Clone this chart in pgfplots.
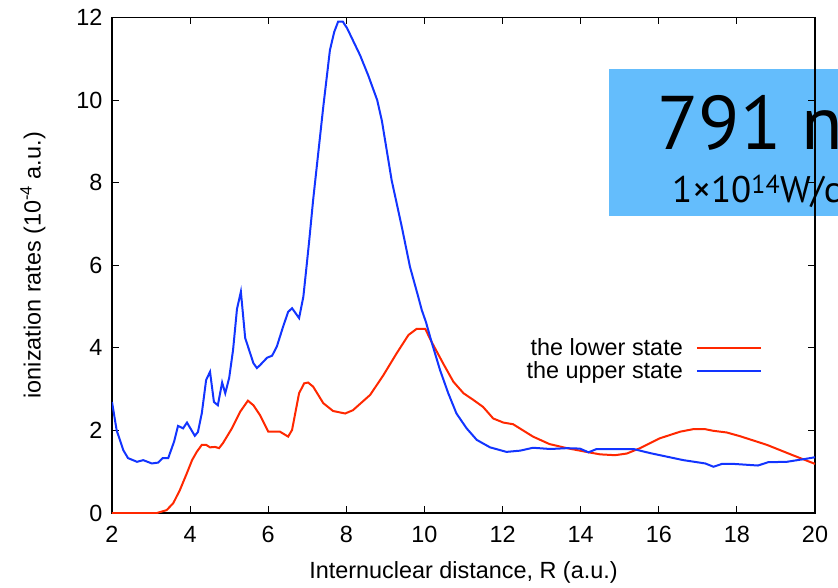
\documentclass[border=0pt]{standalone}
\usepackage{pgfplots}
\pgfplotsset{compat=1.18}
\usepackage{fontspec}
\setmainfont{Liberation Sans}
\newfontfamily\boxfont{PT Sans}
\definecolor{cred}{RGB}{255,40,0}
\definecolor{cblue}{RGB}{18,52,255}
\definecolor{cbox}{RGB}{100,189,252}

\pgfplotstableread{
x y
2.00 0
3.15 0
3.40 0.07
3.57 0.24
3.74 0.56
3.92 0.97
4.05 1.28
4.17 1.48
4.30 1.65
4.41 1.65
4.51 1.59
4.64 1.60
4.74 1.57
4.84 1.69
5.07 2.05
5.28 2.45
5.48 2.72
5.62 2.61
5.79 2.37
6.00 1.97
6.12 1.97
6.30 1.97
6.51 1.85
6.61 2.01
6.79 2.90
6.92 3.14
7.02 3.16
7.15 3.06
7.41 2.66
7.66 2.47
7.97 2.41
8.17 2.49
8.61 2.86
8.95 3.34
9.29 3.87
9.59 4.31
9.80 4.46
10.02 4.46
10.18 4.15
10.48 3.62
10.74 3.18
11.00 2.90
11.25 2.74
11.50 2.57
11.76 2.29
12.02 2.19
12.27 2.15
12.78 1.85
13.20 1.67
13.65 1.57
14.20 1.47
14.50 1.42
14.88 1.40
15.18 1.44
15.52 1.57
16.03 1.81
16.55 1.97
16.88 2.03
17.19 2.03
17.40 1.99
17.74 1.95
18.08 1.86
18.77 1.65
19.43 1.40
20.00 1.19
}\lowerstate

\pgfplotstableread{
x y
2.00 2.69
2.12 2.00
2.29 1.52
2.41 1.33
2.64 1.24
2.80 1.28
3.02 1.20
3.18 1.22
3.30 1.33
3.44 1.33
3.59 1.73
3.69 2.11
3.82 2.05
3.92 2.19
4.12 1.87
4.20 1.96
4.30 2.42
4.41 3.22
4.51 3.42
4.61 2.69
4.71 2.61
4.82 3.16
4.90 2.90
5.00 3.27
5.10 3.95
5.20 4.94
5.30 5.36
5.41 4.24
5.62 3.63
5.71 3.51
5.79 3.58
5.97 3.76
6.10 3.81
6.22 4.03
6.38 4.51
6.51 4.87
6.61 4.96
6.79 4.72
6.90 5.24
6.99 6.05
7.05 6.60
7.15 7.58
7.41 9.84
7.58 11.21
7.69 11.65
7.79 11.90
7.91 11.90
8.02 11.74
8.35 11.09
8.56 10.60
8.79 10.00
8.91 9.50
9.16 8.06
9.25 7.67
9.42 6.93
9.63 5.96
9.84 5.24
9.93 4.92
10.04 4.62
10.18 4.15
10.40 3.46
10.61 2.90
10.82 2.41
11.08 2.05
11.34 1.77
11.68 1.59
12.10 1.48
12.45 1.51
12.78 1.58
13.22 1.55
13.65 1.57
13.98 1.56
14.20 1.47
14.41 1.55
15.35 1.55
15.78 1.45
16.63 1.28
17.19 1.20
17.40 1.12
17.62 1.19
17.90 1.19
18.54 1.15
18.80 1.23
19.28 1.24
19.75 1.31
20.00 1.35
}\upperstate

\begin{document}
\begin{tikzpicture}[font=\fontsize{23.4}{28}\selectfont]
% blue box behind the axis
\fill[cbox] (497pt,297pt) rectangle (760pt,444pt);
\node[anchor=base west, inner sep=0pt, font=\boxfont\fontsize{76}{76}\selectfont] at (545pt,363pt) {791 nm};
\node[anchor=base west, inner sep=0pt, font=\boxfont\fontsize{37}{37}\selectfont] at (560pt,310pt) {1×10\textsuperscript{14}W/cm\textsuperscript{2}};
\begin{axis}[
  at={(0pt,0pt)}, anchor=south west,
  width=703pt, height=495.5pt, scale only axis,
  xmin=2, xmax=20, ymin=0, ymax=12,
  xtick={2,4,...,20}, ytick={0,2,...,12},
  /pgf/number format/assume math mode=true,
  tick style={black, line width=1pt},
  major tick length=7pt,
  axis line style={line width=1.3pt},
  xticklabel style={yshift=-10pt},
  yticklabel style={xshift=-6pt},
  xlabel={Internuclear distance, R (a.u.)},
  ylabel={ionization rates (10\textsuperscript{-4} a.u.)},
  every axis x label/.style={at={(axis description cs:0.5,0)}, anchor=center, yshift=-59pt},
  every axis y label/.style={at={(axis description cs:0,0.5)}, anchor=center, rotate=90, yshift=79pt},
  legend style={at={(0.9246,0.357)}, anchor=north east, draw=none, fill=none,
    inner sep=0pt, legend plot pos=right, cells={anchor=east}, row sep=1pt},
  legend image code/.code={\path (0pt,0pt); \draw[#1] (11pt,0pt) -- (75pt,0pt);},
]
\addplot[cred, line width=2pt] table[x=x,y=y] {\lowerstate};
\addlegendentry{the lower state}
\addplot[cblue, line width=2pt] table[x=x,y=y] {\upperstate};
\addlegendentry{the upper state}
\end{axis}
\pgfresetboundingbox
\path[use as bounding box] (-112pt,-74pt) rectangle (726pt,513pt);
\end{tikzpicture}
\end{document}
